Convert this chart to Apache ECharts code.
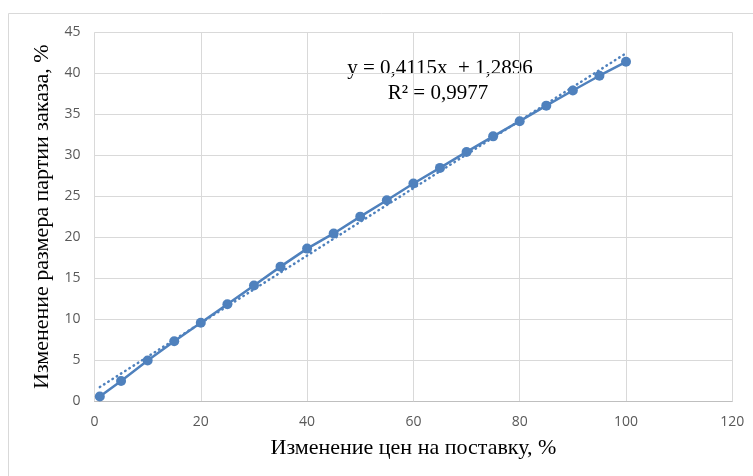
<!DOCTYPE html>
<html>
<head>
<meta charset="utf-8">
<script src="https://cdn.jsdelivr.net/npm/echarts@6/dist/echarts.min.js"></script>
<style>html,body{margin:0;padding:0;background:#fff;}#c{width:753px;height:476px;}</style>
</head>
<body>
<div id="c"></div>
<script>
var priceChange = [1, 5, 10, 15, 20, 25, 30, 35, 40, 45, 50, 55, 60, 65, 70, 75, 80, 85, 90, 95, 100];
var lotChange = [0.55, 2.45, 4.95, 7.3, 9.55, 11.8, 14.1, 16.4, 18.6, 20.45, 22.5, 24.5, 26.55, 28.45, 30.4, 32.3, 34.15, 36.05, 37.9, 39.7, 41.4];
var trendSlope = 0.4115;
var trendIntercept = 1.2896;
var trendR2 = '0,9977';
var xTicks = [0, 20, 40, 60, 80, 100, 120];
var yTicks = [0, 5, 10, 15, 20, 25, 30, 35, 40, 45];
var xTitle = 'Изменение цен на поставку, %';
var yTitle = 'Изменение размера партии заказа, %';
var eqText = 'y = 0,4115x  + 1,2896';
var r2Text = 'R² = ' + trendR2;

var pts = priceChange.map(function (x, i) { return [x, lotChange[i]]; });
var x0 = priceChange[0], x1 = priceChange[priceChange.length - 1];
var trend = [[x0, trendSlope * x0 + trendIntercept], [x1, trendSlope * x1 + trendIntercept]];

var color = '#4f81bd';
var chart = echarts.init(document.getElementById('c'));
chart.setOption({
  animation: false,
  backgroundColor: '#fff',
  grid: { left: 94.5, right: 20.7, top: 32.3, bottom: 75 },
  xAxis: {
    type: 'value', min: xTicks[0], max: xTicks[xTicks.length - 1], interval: 20,
    name: xTitle, nameLocation: 'middle', nameGap: 36,
    nameTextStyle: { fontFamily: 'Liberation Serif', fontSize: 22, color: '#000' },
    axisLine: { show: true, lineStyle: { color: '#bfbfbf', width: 1 } },
    axisTick: { show: false },
    axisLabel: { fontFamily: 'Open Sans', fontSize: 14, color: '#595959', margin: 14 },
    splitLine: { show: true, lineStyle: { color: '#d9d9d9', width: 1 } }
  },
  yAxis: {
    type: 'value', min: yTicks[0], max: yTicks[yTicks.length - 1], interval: 5,
    name: yTitle, nameLocation: 'middle', nameGap: 38, nameRotate: 90,
    nameTextStyle: { fontFamily: 'Liberation Serif', fontSize: 22, color: '#000' },
    axisLine: { show: false },
    axisTick: { show: false },
    axisLabel: { fontFamily: 'Open Sans', fontSize: 14, color: '#595959', margin: 14 },
    splitLine: { show: true, lineStyle: { color: '#d9d9d9', width: 1 } }
  },
  graphic: [
    { type: 'rect', shape: { x: 8.5, y: 13.5, width: 800, height: 500 }, style: { fill: 'none', stroke: '#d9d9d9', lineWidth: 1 }, z: -1 },
    { type: 'text', x: 440, y: 68, style: { text: eqText, font: '21px "Liberation Serif"', fill: '#000', align: 'center', verticalAlign: 'middle' } },
    { type: 'text', x: 438, y: 93, style: { text: r2Text, font: '21px "Liberation Serif"', fill: '#000', align: 'center', verticalAlign: 'middle' } }
  ],
  series: [
    {
      type: 'line', data: pts, symbol: 'circle', symbolSize: 10,
      itemStyle: { color: color },
      lineStyle: { color: color, width: 2.5 },
      z: 3
    },
    {
      type: 'line', data: trend, symbol: 'none',
      lineStyle: { color: color, width: 2.5, type: [0.5, 4.5], cap: 'round' },
      z: 4
    }
  ]
});
</script>
</body>
</html>
